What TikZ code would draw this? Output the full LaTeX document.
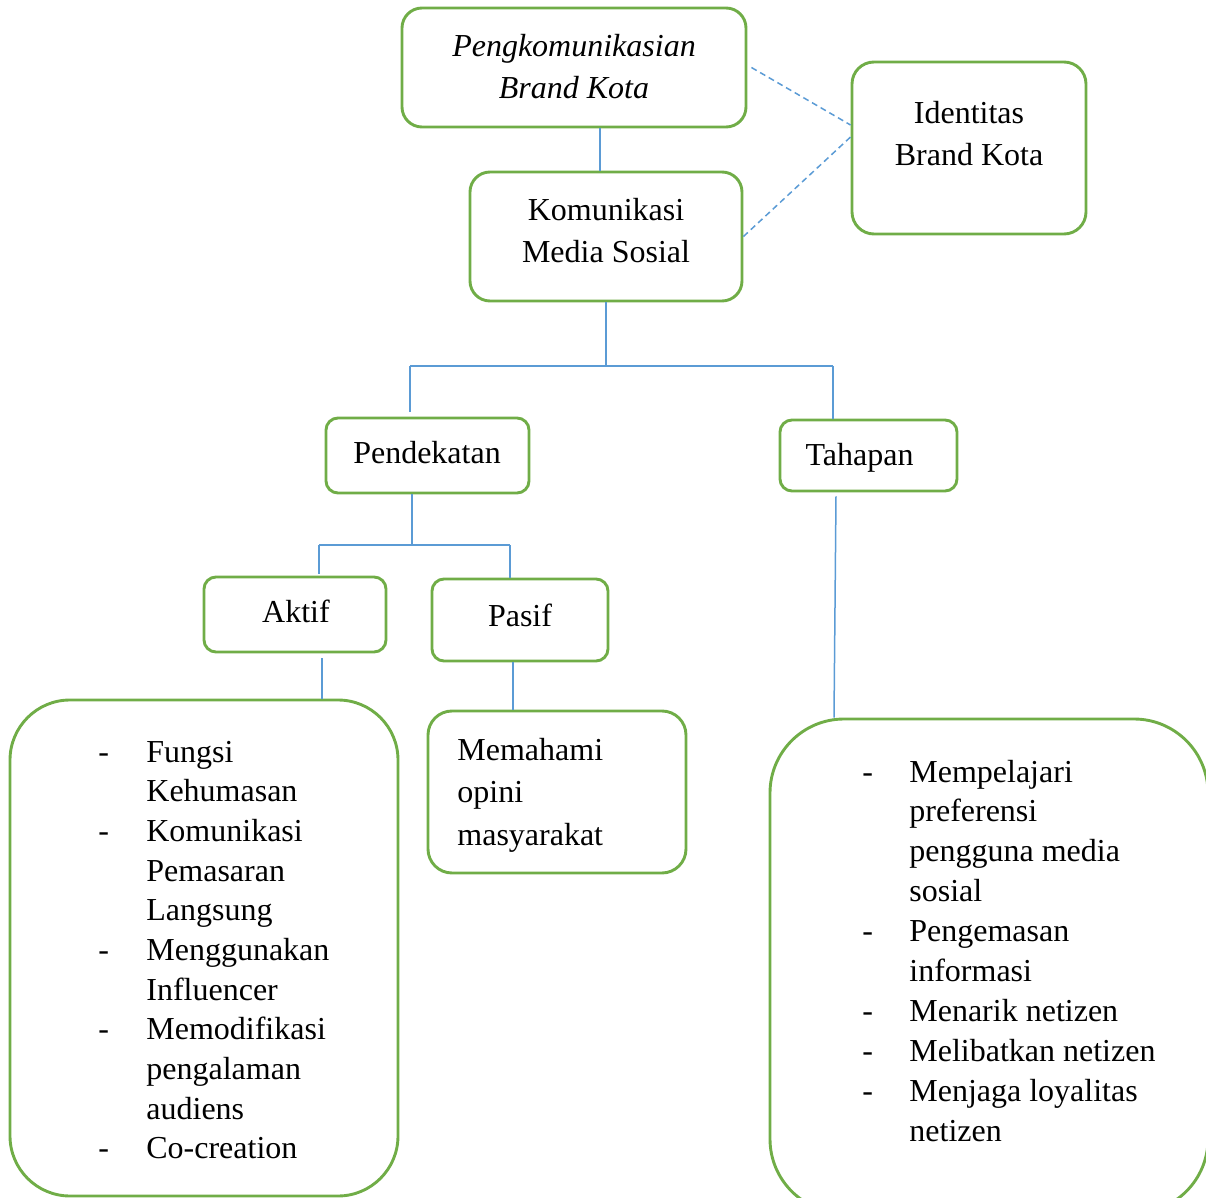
\documentclass[tikz,border=0pt]{standalone}
\usepackage{fontspec}
\setmainfont{Liberation Serif}
\usetikzlibrary{positioning}

\definecolor{boxgreen}{HTML}{70AD47}
\definecolor{linkblue}{HTML}{5B9BD5}

\begin{document}
\begin{tikzpicture}[x=0.5pt, y=-0.5pt,
  gbox/.style={draw=boxgreen, line width=1.45pt, rounded corners=#1, inner sep=0pt},
  gbox/.default=10pt,
  txt/.style={inner sep=0pt, anchor=base, font=\fontsize{16}{21}\selectfont},
  list/.style={inner sep=0pt, anchor=base west, font=\fontsize{16}{19.85}\selectfont},
  link/.style={draw=linkblue, line width=0.75pt}]

\useasboundingbox (0,0) rectangle (1206,1198);

% boxes
\node [gbox, minimum width=172pt, minimum height=59.5pt] (pk) at (574,67.5) {};
\node [gbox=11pt, minimum width=117pt, minimum height=86pt] (id) at (969,148) {};
\node [gbox, minimum width=136pt, minimum height=64.5pt] (km) at (606,236.5) {};
\node [gbox=6pt, minimum width=101.5pt, minimum height=37.5pt] (pd) at (427.5,455.5) {};
\node [gbox=6pt, minimum width=88.5pt, minimum height=35.5pt] (th) at (868.5,455.5) {};
\node [gbox=6pt, minimum width=91pt, minimum height=37.5pt] (ak) at (295,614.5) {};
\node [gbox=6pt, minimum width=88pt, minimum height=41pt] (ps) at (520,620) {};
\node [gbox=30pt, minimum width=194pt, minimum height=248pt] (akl) at (204,948) {};
\node [gbox=12pt, minimum width=129pt, minimum height=81pt] (mm) at (557,792) {};
\node [gbox=37pt, minimum width=219pt, minimum height=247pt] (thl) at (989,966) {};

% texts
\node [txt, font=\fontsize{16}{21}\selectfont\itshape] (pk-t) at (574,57)
  {\begin{tabular}[t]{@{}c@{}}Pengkomunikasian\\Brand Kota\end{tabular}};
\node [txt] (id-t) at (969,124)
  {\begin{tabular}[t]{@{}c@{}}Identitas\\Brand Kota\end{tabular}};
\node [txt] (km-t) at (606,221)
  {\begin{tabular}[t]{@{}c@{}}Komunikasi\\Media Sosial\end{tabular}};
\node [txt] (pd-t) at (427,464) {Pendekatan};
\node [txt] (th-t) at (859.5,466) {Tahapan};
\node [txt] (ak-t) at (296,622) {Aktif};
\node [txt] (ps-t) at (520,626) {Pasif};

\node [list, font=\fontsize{16}{21.25}\selectfont] (mm-t) at (457,760)
  {\begin{tabular}[t]{@{}l@{}}Memahami\\opini\\masyarakat\end{tabular}};

\node [list] (akl-t) at (98,762)
  {\begin{tabular}[t]{@{}p{24pt}@{}l@{}}
  -&Fungsi\\ &Kehumasan\\
  -&Komunikasi\\ &Pemasaran\\ &Langsung\\
  -&Menggunakan\\ &Influencer\\
  -&Memodifikasi\\ &pengalaman\\ &audiens\\
  -&Co-creation
  \end{tabular}};

\node [list, font=\fontsize{16}{19.95}\selectfont] (thl-t) at (862,782)
  {\begin{tabular}[t]{@{}p{23.5pt}@{}l@{}}
  -&Mempelajari\\ &preferensi\\ &pengguna media\\ &sosial\\
  -&Pengemasan\\ &informasi\\
  -&Menarik netizen\\
  -&Melibatkan netizen\\
  -&Menjaga loyalitas\\ &netizen
  \end{tabular}};

% junctions
\coordinate (j1l) at (410,366);
\coordinate (j1r) at (833,366);
\coordinate (j2) at (412,545);
\coordinate (j2l) at (319,545);
\coordinate (j2r) at (510,545);

% connectors
\draw [link] ([xshift=13pt]pk.south) -- ([xshift=-3pt]km.north);
\draw [link, dash pattern=on 3pt off 2pt] ([xshift=2pt]pk.east) -- ([yshift=11.5pt]id.west);
\draw [link, dash pattern=on 3pt off 2pt] (km.east) -- ([yshift=5.5pt]id.west);

\draw [link] (km.south) -- (km.south |- j1l);
\draw [link] (j1l) -- (j1r);
\draw [link, shorten >=2.5pt] (j1l) -- (j1l |- pd.north);
\draw [link] (j1r) -- (j1r |- th.north);

\draw [link] (j2 |- pd.south) -- (j2);
\draw [link] (j2l) -- (j2r);
\draw [link, shorten >=1pt] (j2l) -- (j2l |- ak.north);
\draw [link] (j2r) -- (j2r |- ps.north);

\draw [link] ([xshift=13.5pt,yshift=-2.5pt]ak.south) -- ([xshift=59pt]akl.north);
\draw [link] ([xshift=-3.5pt]ps.south) -- ([xshift=-22pt]mm.north);
\draw [link] ([xshift=-16.25pt,yshift=-2pt]th.south) -- ([xshift=-77.5pt]thl.north);

\end{tikzpicture}
\end{document}
